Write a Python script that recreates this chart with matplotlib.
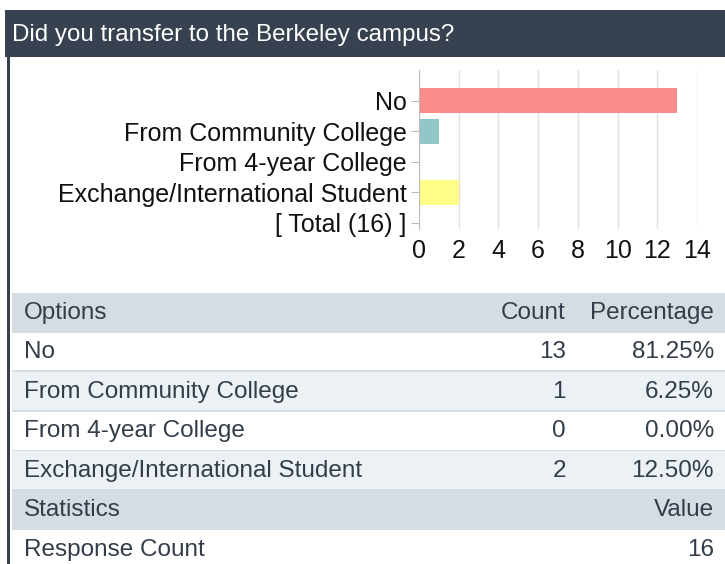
import matplotlib.pyplot as plt
from matplotlib.patches import Rectangle

plt.rcParams['font.family'] = ['Liberation Sans', 'DejaVu Sans']

title = "Did you transfer to the Berkeley campus?"
options = ["No", "From Community College", "From 4-year College", "Exchange/International Student"]
counts = [13, 1, 0, 2]
bar_colors = ["#fa8c8c", "#93c7c7", "#b0d0f0", "#ffff88"]
xticks = [0, 2, 4, 6, 8, 10, 12, 14]
stat_names = ["Response Count"]

total = sum(counts)
W, H = 725, 564

fig = plt.figure(figsize=(W / 100, H / 100), dpi=100)


def fx(x):
    return x / W


def fy(y):
    return 1 - y / H


def rect(x0, y0, x1, y1, color):
    fig.patches.append(Rectangle((fx(x0), fy(y1)), fx(x1) - fx(x0), fy(y0) - fy(y1),
                                 transform=fig.transFigure, color=color, lw=0, zorder=0))


def txt(x, y, s, ha="left", color="#333d4a", size=17.5):
    fig.text(fx(x), fy(y), s, ha=ha, va="center", color=color, fontsize=size)


# header band and left border
rect(5, 10, W, 57, "#37414f")
rect(7, 57, 9.5, H, "#37414f")
txt(12, 35, title, color="white", size=17.4)

# bar chart
ax = fig.add_axes([fx(419), fy(229), fx(697) - fx(419), fy(70) - fy(229)])
labels = options + ["[ Total (%d) ]" % total]
ypos = list(range(len(labels)))
ax.barh(ypos[:-1], counts, height=0.82, color=bar_colors, zorder=2)
ax.set_xlim(0, 14)
ax.set_ylim(4.2, -1.0)
ax.set_xticks(xticks)
ax.set_yticks(ypos)
ax.set_yticklabels(labels, fontsize=18, color="#111111")
ax.tick_params(axis="x", length=0, labelsize=18, pad=7, labelcolor="#111111")
ax.tick_params(axis="y", length=6, color="#bbbbbb", pad=3)
ax.grid(axis="x", color="#e2e2e2", lw=1, zorder=0)
for s in ["top", "right", "bottom"]:
    ax.spines[s].set_visible(False)
ax.spines["left"].set_color("#bbbbbb")

# table
row_top = 293
row_h = 39.5
header_bg = "#d5dde3"
alt_bg = "#ebf1f5"
line_c = "#d5dde3"

rect(12, row_top, W, row_top + row_h, header_bg)
txt(24, row_top + row_h / 2, "Options")
txt(566, row_top + row_h / 2, "Count", ha="right")
txt(714, row_top + row_h / 2, "Percentage", ha="right")

for i, (name, c) in enumerate(zip(options, counts)):
    y0 = row_top + row_h * (i + 1)
    if i % 2 == 1:
        rect(12, y0, W, y0 + row_h, alt_bg)
    rect(12, y0 + row_h - 1.5, W, y0 + row_h + 0.5, line_c)
    txt(24, y0 + row_h / 2, name)
    txt(566, y0 + row_h / 2, str(c), ha="right")
    txt(714, y0 + row_h / 2, "%.2f%%" % (c / total * 100), ha="right")

y0 = row_top + row_h * (len(options) + 1)
rect(12, y0, W, y0 + row_h, header_bg)
txt(24, y0 + row_h / 2, "Statistics")
txt(714, y0 + row_h / 2, "Value", ha="right")

y0 += row_h
txt(24, y0 + row_h / 2, stat_names[0])
txt(714, y0 + row_h / 2, str(total), ha="right")

fig.savefig("out.png", dpi=100)
